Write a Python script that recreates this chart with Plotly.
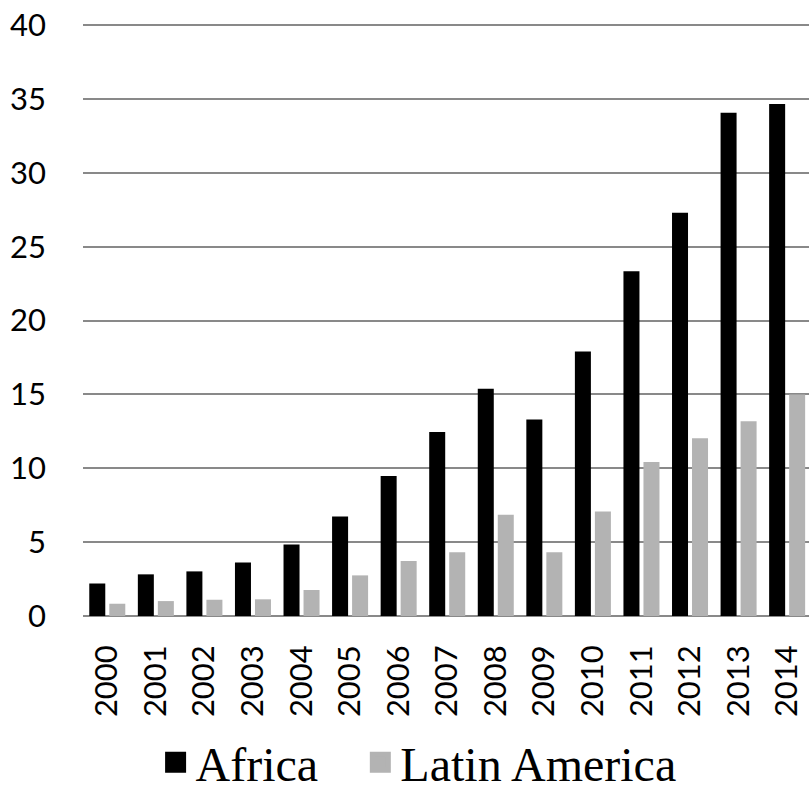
import plotly.graph_objects as go

years = [str(y) for y in range(2000, 2015)]
africa = [2.2, 2.82, 3.02, 3.63, 4.84, 6.74, 9.48, 12.45, 15.38, 13.31, 17.9, 23.34, 27.3, 34.07, 34.66]
latin_america = [0.83, 1.01, 1.1, 1.13, 1.76, 2.75, 3.72, 4.32, 6.85, 4.32, 7.07, 10.43, 12.04, 13.19, 14.99]
y_ticks = [0, 5, 10, 15, 20, 25, 30, 35, 40]
series_names = ["Africa", "Latin America"]
series_colors = ["#000000", "#b3b3b3"]
legend_ids = ["legend", "legend2"]

fig = go.Figure()
for vals, name, col in zip([africa, latin_america], series_names, series_colors):
    fig.add_trace(go.Bar(x=years, y=vals, name=name, showlegend=False,
                         marker=dict(color=col, line=dict(width=0))))
# legend entries with larger square swatches
for name, col, lid in zip(series_names, series_colors, legend_ids):
    fig.add_trace(go.Scatter(x=[years[0]], y=[None], name=name, mode="markers",
                             marker=dict(symbol="square", size=16, color=col,
                                         line=dict(color=col, width=5)),
                             showlegend=True, hoverinfo="skip", legend=lid))

legend_style = dict(orientation="h", xanchor="left", y=-0.2475, yanchor="middle",
                    font=dict(family="Liberation Serif, Times New Roman, serif", size=48, color="black"),
                    itemsizing="trace", bgcolor="rgba(0,0,0,0)", itemwidth=30)

fig.update_layout(
    width=809, height=787,
    margin=dict(l=83, r=0, t=24, b=171, autoexpand=False),
    paper_bgcolor="white", plot_bgcolor="white",
    barmode="group", bargap=0.176, bargroupgap=0.2,
    font=dict(family="Lato, Calibri, sans-serif", size=31, color="black"),
    showlegend=True,
    legend=dict(x=0.1, **legend_style),
    legend2=dict(x=0.382, **legend_style),
)
fig.update_xaxes(type="category", range=[-0.5, 14.45], tickangle=-90, showgrid=False,
                 showline=False, ticks="", ticklabelstandoff=22, automargin=False,
                 tickfont=dict(family="Lato, Calibri, sans-serif", size=31, color="black"))
fig.update_yaxes(range=[0, 40.08], tickvals=y_ticks, showgrid=True, gridcolor="#898989", gridwidth=1.5,
                 zeroline=True, zerolinecolor="#898989", zerolinewidth=1.5, showline=False,
                 ticks="", ticklabelstandoff=36, automargin=False,
                 tickfont=dict(family="Lato, Calibri, sans-serif", size=31, color="black"))

fig.write_html("out.html", config={"displayModeBar": False},
               post_script="document.body.style.margin='0';document.body.style.overflow='hidden';")
